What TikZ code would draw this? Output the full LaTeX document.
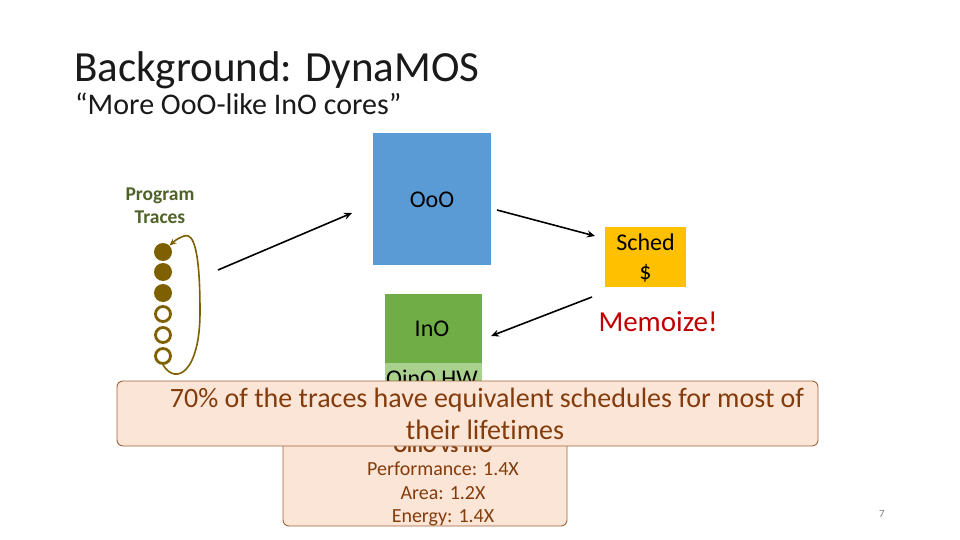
\documentclass[tikz,border=0pt]{standalone}
\usepackage{fontspec}
\setmainfont{Carlito}[Ligatures=NoCommon]
\usetikzlibrary{arrows.meta}
\definecolor{oooblue}{HTML}{5B9BD5}
\definecolor{inogreen}{HTML}{70AD47}
\definecolor{oinogreen}{HTML}{A9D18E}
\definecolor{schedgold}{HTML}{FFC000}
\definecolor{memred}{HTML}{C00000}
\definecolor{peach}{HTML}{FBE5D6}
\definecolor{brownline}{HTML}{A0643A}
\definecolor{browntext}{HTML}{843C0C}
\definecolor{tracegold}{HTML}{7F6000}
\definecolor{tracetext}{HTML}{4F6228}
\definecolor{titlegray}{HTML}{1A1A1A}
\tikzset{
  block/.style={inner sep=0pt, outer sep=0pt},
  flow/.style={-{Stealth[length=8pt,width=7pt]}, line width=1.6pt, black},
  tracefull/.style={circle, fill=tracegold, minimum size=18pt, inner sep=0pt},
  traceopen/.style={circle, draw=tracegold, line width=2.8pt, minimum size=15pt, inner sep=0pt},
  loopline/.style={-{Stealth[length=7pt,width=6pt]}, draw=tracegold, line width=1.6pt},
  callout/.style={draw=brownline, fill=peach, rounded corners=6pt, line width=0.9pt},
  boxtext/.style={font=\fontsize{24}{29}\selectfont},
  calltext/.style={text=browntext, font=\fontsize{20}{24}\selectfont, anchor=base},
  overtext/.style={text=browntext, font=\fontsize{28}{32}\selectfont, anchor=base},
}
\begin{document}
\begin{tikzpicture}[x=1pt,y=-1pt]
\useasboundingbox (0,0) rectangle (960,540);
\fill[white] (0,0) rectangle (960,540);
% titles
\node[anchor=base west, inner sep=0pt, text=titlegray, font=\fontsize{43}{48}\selectfont] (title) at (74,82) {Background: DynaMOS};
\node[anchor=base west, inner sep=0pt, text=titlegray, font=\fontsize{30}{34}\selectfont] (subtitle) at (75,115) {“More OoO-like InO cores”};
% OoO
\fill[oooblue] (373,133) rectangle (491,265);
\node[boxtext] (ooo) at (432,200) {OoO};
\coordinate (oooin) at (352,213);
\coordinate (oooout) at (497,210);
% InO / OinO HW
\fill[oinogreen] (385,363) rectangle (482,395);
\node[boxtext, anchor=base] (oinohw) at (432,386) {OinO HW};
\fill[inogreen] (385,294) rectangle (482,363);
\node[boxtext] (ino) at (432,329) {InO};
\coordinate (inoin) at (491,336);
% Sched $
\fill[schedgold] (605,227) rectangle (686,287);
\node[boxtext, align=center, inner sep=0pt] (sched) at (645.5,258) {Sched\\\$};
\coordinate (schedin) at (595,236);
\coordinate (schedout) at (592,297);
% Memoize
\node[text=memred, font=\fontsize{29}{32}\selectfont] (memo) at (658,322) {Memoize!};
% program traces
\node[text=tracetext, font=\bfseries\fontsize{19.5}{23}\selectfont, align=center, inner sep=0pt] (ptr) at (160,206) {Program\\Traces};
\node[tracefull] (t1) at (163,252) {};
\node[tracefull] (t2) at (163,272) {};
\node[tracefull] (t3) at (163,293) {};
\node[traceopen] (t4) at (163,314) {};
\node[traceopen] (t5) at (163,335) {};
\node[traceopen] (t6) at (163,356) {};
\coordinate (trout) at (218,270);
\draw[loopline] (t6.south) .. controls (176,386) and (200,372) .. (200,312)
   .. controls (200,252) and (194,232) .. (184,236) .. controls (177,239) .. (t1.north east);
% arrows
\draw[flow] (trout) -- (oooin);
\draw[flow] (oooout) -- (schedin);
\draw[flow] (schedout) -- (inoin);
% lower callout
\draw[callout] (283,428) rectangle (567,526);
\node[calltext, font=\bfseries\fontsize{20}{24}\selectfont] (cmp) at (443,452) {OinO vs InO};
\node[calltext] (perf) at (443,475) {Performance: 1.4X};
\node[calltext] (area) at (443,499) {Area: 1.2X};
\node[calltext] (energy) at (443,522) {Energy: 1.4X};
% overlay callout
\draw[callout] (117,381) rectangle (818,446);
\node[overtext] (ov1) at (487,407) {70\% of the traces have equivalent schedules for most of};
\node[overtext] (ov2) at (485,439) {their lifetimes};
% page number
\node[text=gray, font=\fontsize{11}{12}\selectfont] (pg) at (882,514) {7};
\end{tikzpicture}
\end{document}
